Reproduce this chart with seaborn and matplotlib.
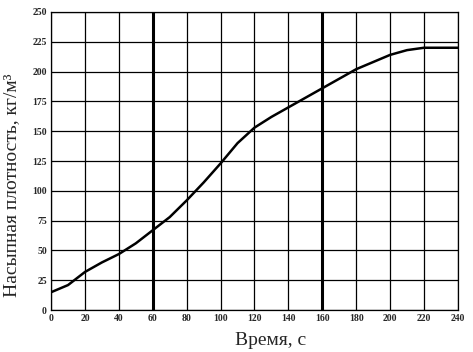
import numpy as np
import pandas as pd
import matplotlib
matplotlib.use("Agg")
import matplotlib.pyplot as plt
import seaborn as sns

# время, с
time_s = [0, 10, 20, 30, 40, 50, 60, 70, 80, 90, 100, 110, 120,
          130, 140, 150, 160, 170, 180, 190, 200, 210, 220, 230, 240]
# насыпная плотность, кг/м3
density = [15, 21, 32, 40, 47, 56, 67, 78, 92, 107, 123, 140, 153,
           162, 170, 178, 186, 194, 202, 208, 214, 218, 220, 220, 220]

x_ticks = list(range(0, 241, 20))
y_ticks = list(range(0, 251, 25))
thick_x = [60, 160]

sns.set_style("white")
plt.rcParams["font.family"] = ["Liberation Serif", "DejaVu Serif"]

df = pd.DataFrame({"t": time_s, "rho": density})

fig = plt.figure(figsize=(4.73, 3.52), dpi=100)
ax = fig.add_axes([0.108, 0.119, 0.860, 0.847])

for xv in x_ticks:
    ax.axvline(xv, color="black", lw=2.2 if xv in thick_x else 0.9, zorder=1)
for yv in y_ticks:
    ax.axhline(yv, color="black", lw=0.9, zorder=1)

sns.lineplot(data=df, x="t", y="rho", ax=ax, color="black", lw=1.8, zorder=3)

ax.set_xlim(0, 240)
ax.set_ylim(0, 250)
ax.set_xticks(x_ticks)
ax.set_yticks(y_ticks)
ax.tick_params(labelsize=7, length=0, pad=3)
for lbl in ax.get_xticklabels() + ax.get_yticklabels():
    lbl.set_fontweight("bold")
for s in ax.spines.values():
    s.set_color("black")
    s.set_linewidth(0.9)

ax.set_xlabel("Время, с", fontsize=14)
ax.set_ylabel("Насыпная плотность, кг/м³", fontsize=14)
ax.xaxis.set_label_coords(0.54, -0.075)
ax.yaxis.set_label_coords(-0.075, 0.42)

fig.savefig("out.png", dpi=100)
